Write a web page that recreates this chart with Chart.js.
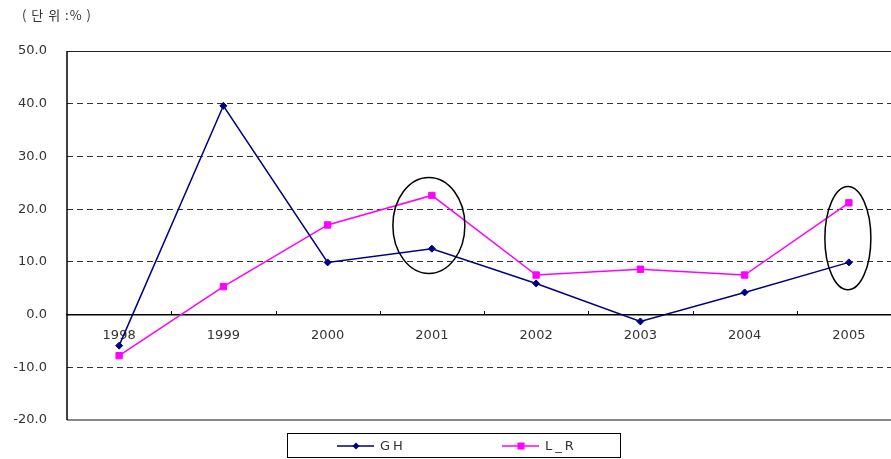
<!DOCTYPE html>
<html lang="ko">
<head>
  <meta charset="UTF-8">
  <title>GH / L_R</title>
  <script src="https://cdn.jsdelivr.net/npm/chart.js@4.4.0/dist/chart.umd.min.js"></script>
  <style>
    html, body { margin: 0; padding: 0; overflow: hidden; background: #fff; }
    #wrap { width: 920px; height: 459px; position: relative; }
  </style>
</head>
<body>
<div id="wrap"><canvas id="chart"></canvas></div>
<script>
  // 데이터
  const years = ['1998', '1999', '2000', '2001', '2002', '2003', '2004', '2005'];
  const gh = [-5.9, 39.6, 9.9, 12.5, 5.9, -1.3, 4.2, 9.9];
  const lr = [-7.8, 5.3, 17.0, 22.6, 7.5, 8.6, 7.5, 21.2];
  const yTicks = [50, 40, 30, 20, 10, 0, -10, -20];
  const unitLabel = '( 단 위 :% )';

  // 강조 타원 (카테고리 index, 값 범위)
  const circles = [
    { index: 3, from: 7.8, to: 26.0, rx: 36, dx: -3 },
    { index: 7, from: 4.7, to: 24.3, rx: 23, dx: -1 }
  ];

  const FONT = '"DejaVu Sans", sans-serif';

  const decor = {
    id: 'decor',
    beforeDatasetsDraw(chart) {
      const { ctx, chartArea: a, scales: { x, y } } = chart;
      ctx.save();
      // 위쪽 테두리
      ctx.strokeStyle = '#222'; ctx.lineWidth = 1;
      ctx.beginPath(); ctx.moveTo(a.left, Math.round(a.top) + 0.5); ctx.lineTo(a.right, Math.round(a.top) + 0.5); ctx.stroke();
      // 아래 테두리 (회색)
      ctx.strokeStyle = '#888'; ctx.lineWidth = 2;
      ctx.beginPath(); ctx.moveTo(a.left, Math.round(a.bottom)); ctx.lineTo(a.right, Math.round(a.bottom)); ctx.stroke();
      // y축 선
      ctx.strokeStyle = '#000'; ctx.lineWidth = 1.5;
      ctx.beginPath(); ctx.moveTo(a.left, a.top); ctx.lineTo(a.left, a.bottom); ctx.stroke();
      // 0선 위 눈금
      const y0 = Math.round(y.getPixelForValue(0));
      ctx.lineWidth = 1;
      for (let i = 1; i < years.length; i++) {
        const px = Math.round((x.getPixelForValue(i - 1) + x.getPixelForValue(i)) / 2) + 0.5;
        ctx.beginPath(); ctx.moveTo(px, y0); ctx.lineTo(px, y0 - 4); ctx.stroke();
      }
      ctx.restore();
    },
    afterDraw(chart) {
      const { ctx, scales: { x, y } } = chart;
      ctx.save();
      // 타원
      ctx.strokeStyle = '#000'; ctx.lineWidth = 1.5;
      circles.forEach(c => {
        const cx = x.getPixelForValue(c.index) + c.dx;
        const top = y.getPixelForValue(c.to), bot = y.getPixelForValue(c.from);
        ctx.beginPath();
        ctx.ellipse(cx, (top + bot) / 2, c.rx, (bot - top) / 2, 0, 0, Math.PI * 2);
        ctx.stroke();
      });
      // 단위
      ctx.fillStyle = '#333';
      ctx.font = '13px "Noto Sans CJK KR", sans-serif';
      ctx.letterSpacing = '1px';
      ctx.textBaseline = 'middle';
      ctx.fillText(unitLabel, 22, 15);
      ctx.letterSpacing = '0px';
      // 범례
      ctx.strokeStyle = '#000'; ctx.lineWidth = 1;
      ctx.strokeRect(287.5, 433.5, 333, 24);
      const items = [
        { ds: chart.data.datasets[0], x: 337 },
        { ds: chart.data.datasets[1], x: 502 }
      ];
      items.forEach(it => {
        const ly = 446;
        ctx.strokeStyle = it.ds.borderColor; ctx.lineWidth = 1.5;
        ctx.beginPath(); ctx.moveTo(it.x, ly); ctx.lineTo(it.x + 37, ly); ctx.stroke();
        ctx.fillStyle = it.ds.backgroundColor;
        ctx.beginPath();
        if (it.ds.pointStyle === 'rect') ctx.rect(it.x + 19 - 3.5, ly - 3.5, 7, 7);
        else { ctx.moveTo(it.x + 19, ly - 3.5); ctx.lineTo(it.x + 22.5, ly); ctx.lineTo(it.x + 19, ly + 3.5); ctx.lineTo(it.x + 15.5, ly); }
        ctx.fill();
        ctx.fillStyle = '#333';
        ctx.font = '13px ' + FONT;
        ctx.letterSpacing = '3px';
        ctx.textBaseline = 'middle';
        ctx.fillText(it.ds.label, it.x + 43, ly + 1);
        ctx.letterSpacing = '0px';
      });
      ctx.restore();
    }
  };

  new Chart(document.getElementById('chart'), {
    type: 'line',
    data: {
      labels: years,
      datasets: [
        { label: 'GH', data: gh, borderColor: '#000080', backgroundColor: '#000080',
          borderWidth: 1.5, pointStyle: 'rectRot', pointRadius: 3.5, pointBorderWidth: 1, tension: 0 },
        { label: 'L_R', data: lr, borderColor: '#ff00ff', backgroundColor: '#ff00ff',
          borderWidth: 1.5, pointStyle: 'rect', pointRadius: 4.5, pointBorderWidth: 1, tension: 0 }
      ]
    },
    options: {
      responsive: true,
      maintainAspectRatio: false,
      animation: false,
      layout: { padding: { top: 51, bottom: 39, left: 0, right: 19 } },
      plugins: { legend: { display: false }, tooltip: { enabled: false } },
      scales: {
        x: {
          position: { y: 0 },
          offset: true,
          grid: { display: false, drawTicks: false },
          border: { display: true, color: '#000', width: 1.5 },
          ticks: { color: '#333', font: { family: FONT, size: 13 }, padding: 13, maxRotation: 0 }
        },
        y: {
          min: -20, max: 50,
          afterBuildTicks: s => { s.ticks = yTicks.map(v => ({ value: v })); },
          afterFit: s => { s.width = 67; },
          grid: {
            drawTicks: false,
            color: c => ([50, 0, -20].includes(c.tick.value) ? 'rgba(0,0,0,0)' : '#333'),
            lineWidth: 1
          },
          border: { display: false, dash: [6, 4] },
          ticks: {
            color: '#333', font: { family: FONT, size: 13 }, padding: 20,
            callback: v => v.toFixed(1)
          }
        }
      }
    },
    plugins: [decor]
  });
</script>
</body>
</html>
